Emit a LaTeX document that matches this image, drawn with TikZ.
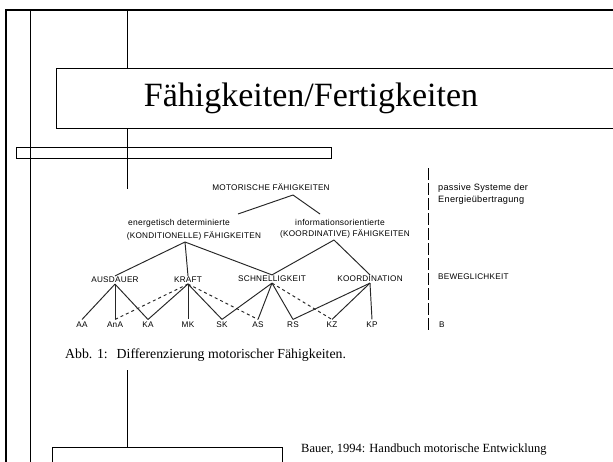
\documentclass[tikz,border=0pt]{standalone}
\usepackage{fontspec}
\setmainfont{Liberation Serif}
\newfontfamily\scanfont[LetterSpace=3]{Liberation Sans}
\usepackage{tikz}
\usetikzlibrary{positioning}

\tikzset{
  caps/.style={font=\scanfont\fontsize{8.2}{9}\selectfont, inner sep=1pt},
  leaf/.style={font=\scanfont\fontsize{8.2}{9}\selectfont, inner sep=2.5pt},
  small/.style={font=\scanfont\fontsize{8.5}{9}\selectfont, inner sep=1pt},
  side/.style={font=\scanfont\fontsize{9.2}{10}\selectfont, inner sep=1pt, anchor=west},
  tree/.style={line width=0.95pt, black!85},
  frame/.style={line width=0.6pt}
}

\begin{document}
\begin{tikzpicture}[x=1pt,y=-1pt]
  \clip (0,0) rectangle (613,461);
  \fill[white] (0,0) rectangle (613,461);

  % slide frame and rules
  \draw[line width=2pt] (6,10) rectangle (640,500);
  \draw[frame] (30,10) -- (30,470);
  \draw[frame] (127,10) -- (127,189);
  \draw[frame] (127,370) -- (127,447);
  \draw[frame,fill=white] (56,68) rectangle (640,128);
  \draw[frame] (16,147) rectangle (331,158);
  \draw[frame,fill=white] (52,447) rectangle (282,480);

  \draw (311,98) node (title) {\fontsize{34}{40}\selectfont F\"ahigkeiten/Fertigkeiten};

  % tree
   \draw (271,187) node[caps] (mot) {MOTORISCHE F\"AHIGKEITEN};
   \draw (179,223) node[small] (energ) {energetisch determinierte};
   \draw (340,222) node[small] (info) {informationsorientierte};
   \draw (194,236) node[caps] (kond) {(KONDITIONELLE) F\"AHIGKEITEN};
   \draw (345,234) node[caps] (koord) {(KOORDINATIVE) F\"AHIGKEITEN};
   \coordinate (apex) at (293,195);
   \coordinate (kapex) at (185,242);
   \coordinate (iapex) at (334,240);
   \coordinate (eend) at (238,214);
   \coordinate (iend) at (320,214);

   \draw (115,280) node[caps] (aus) {AUSDAUER};
   \draw (188,280) node[caps] (kraft) {KRAFT};
   \draw (272,279) node[caps] (schnell) {SCHNELLIGKEIT};
   \draw (370,279) node[caps] (koo) {KOORDINATION};

   \draw (82,325) node[leaf] (aa) {AA};
   \draw (115,325) node[leaf] (ana) {AnA};
   \draw (148,325) node[leaf] (ka) {KA};
   \draw (188,325) node[leaf] (mk) {MK};
   \draw (222,325) node[leaf] (sk) {SK};
   \draw (258,325) node[leaf] (as) {AS};
   \draw (293,325) node[leaf] (rs) {RS};
   \draw (332,325) node[leaf] (kz) {KZ};
   \draw (372,325) node[leaf] (kp) {KP};

      \path[tree] (apex) edge (eend) edge (iend);
      \path[tree] (kapex) edge (aus.north) edge (kraft.north) edge (schnell.north);
      \path[tree] (iapex) edge (schnell.north) edge (koo.north);

      \path[tree] (aus.south) edge (aa.north) edge (ana.north) edge (ka.north);
      \path[tree] (kraft.south) edge (ka.north) edge (mk.north) edge (sk.north);
      \path[tree,dashed] (kraft.south) edge (ana.north) edge (as.north);
      \path[tree] (schnell.south) edge (sk.north) edge (as.north) edge (rs.north);
      \path[tree,dashed] (schnell.south) edge (kz.north);
      \path[tree] (koo.south) edge (rs.north) edge (kz.north) edge (kp.north);

  % right column
   \draw[line width=1pt, dash pattern=on 12pt off 3pt] (428,168) -- (428,330);
   \draw (437,188) node[side] (passiv) {passive Systeme der};
   \draw (437,200) node[side] (energie) {Energie\"ubertragung};
   \draw (437,277) node[caps,anchor=west] (beweg) {BEWEGLICHKEIT};
   \draw (438,325) node[caps,anchor=west] (b) {B};

  % captions
   \draw (65,358) node[anchor=base west,inner sep=0pt,font=\fontsize{13.8}{16}\selectfont] (abb) {Abb. 1:\hspace{9pt}Differenzierung motorischer F\"ahigkeiten.};
   \draw (301,452) node[anchor=base west,inner sep=0pt,font=\fontsize{12.5}{15}\selectfont] (bauer) {Bauer, 1994: Handbuch motorische Entwicklung};
\end{tikzpicture}
\end{document}
